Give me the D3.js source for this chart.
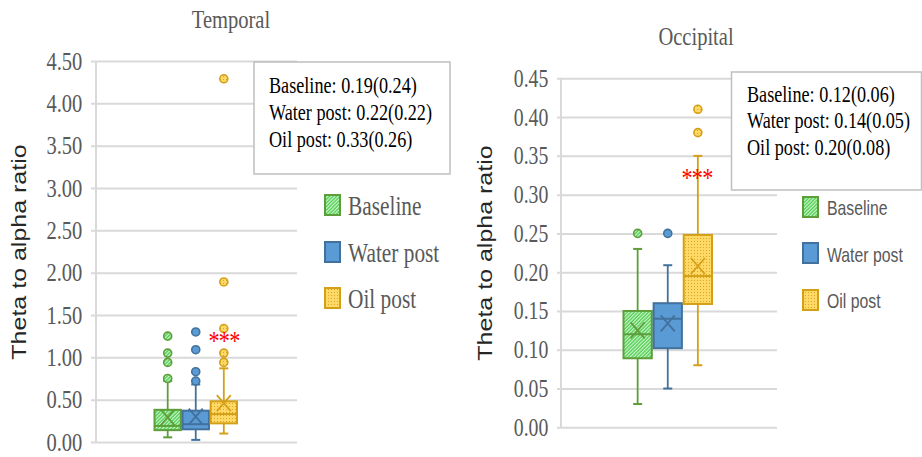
<!DOCTYPE html>
<html>
<head>
<meta charset="utf-8">
<script src="https://cdn.jsdelivr.net/npm/d3@7"></script>
<style>
  body { margin: 0; background: #fff; }
  svg { display: block; }
</style>
</head>
<body>
<div class="svg_container"></div>
<script>
const WIDTH = 922;
const HEIGHT = 457;
const SX = 0.79; // the picture is squeezed sideways, text too

const groups = ["Baseline", "Water post", "Oil post"];

// Temporal
const temporalMin = [0.055, 0.025, 0.10];
const temporalQ1 = [0.14, 0.15, 0.22];
const temporalMedian = [0.19, 0.21, 0.33];
const temporalQ3 = [0.38, 0.37, 0.48];
const temporalMax = [0.72, 0.68, 0.87];
const temporalMean = [0.29, 0.30, 0.46];
const temporalOutliers = [[0.75, 0.94, 1.05, 1.25], [0.72, 0.83, 1.09, 1.30], [0.94, 1.05, 1.34, 1.89, 4.29]];
const temporalTicks = [0, 0.5, 1, 1.5, 2, 2.5, 3, 3.5, 4, 4.5];
const temporalSummary = ["Baseline: 0.19(0.24)", "Water post: 0.22(0.22)", "Oil post: 0.33(0.26)"];

// Occipital
const occipitalMin = [0.03, 0.05, 0.08];
const occipitalQ1 = [0.089, 0.102, 0.159];
const occipitalMedian = [0.12, 0.14, 0.195];
const occipitalQ3 = [0.15, 0.16, 0.248];
const occipitalMax = [0.23, 0.209, 0.35];
const occipitalMean = [0.125, 0.134, 0.208];
const occipitalOutliers = [[0.25], [0.25], [0.38, 0.41]];
const occipitalTicks = [0, 0.05, 0.1, 0.15, 0.2, 0.25, 0.3, 0.35, 0.4, 0.45];
const occipitalSummary = ["Baseline: 0.12(0.06)", "Water post: 0.14(0.05)", "Oil post: 0.20(0.08)"];

const fills = ["url(#pGreen)", "#5b9bd5", "url(#pGold)"];
const strokes = ["#5e9e3a", "#41719c", "#d4a017"];

const SERIF = "'Liberation Serif', 'Times New Roman', serif";
const SANS = "'Liberation Sans', Arial, sans-serif";

var panels = [
  {
    title: "Temporal", titleX: 231, titleY: 28,
    min: temporalMin, q1: temporalQ1, med: temporalMedian, q3: temporalQ3, max: temporalMax,
    mean: temporalMean, out: temporalOutliers, ticks: temporalTicks, summary: temporalSummary,
    yDomain: [0, 4.5], yRange: [442, 61], xRange: [154.5, 237],
    gridLeft: 91, gridRight: 297, axisX: 96, tickSize: 26,
    yTitleX: 26, yTitleY: 252,
    box: [254, 62, 196, 112], sumX: 269, sumY: [93, 120, 147],
    legX: 325, legY: [195, 242, 288], legTextX: 348, legBase: [215, 262, 308], legFont: SERIF, legSize: 27,
    starX: 224, starY: 350
  },
  {
    title: "Occipital", titleX: 696, titleY: 45,
    min: occipitalMin, q1: occipitalQ1, med: occipitalMedian, q3: occipitalQ3, max: occipitalMax,
    mean: occipitalMean, out: occipitalOutliers, ticks: occipitalTicks, summary: occipitalSummary,
    yDomain: [0, 0.45], yRange: [427.3, 78.3], xRange: [623.5, 712],
    gridLeft: 557, gridRight: 777, axisX: 561, tickSize: 25,
    yTitleX: 492, yTitleY: 253,
    box: [731.5, 72, 190, 118], sumX: 747, sumY: [102, 128, 155],
    legX: 803, legY: [197, 243, 290], legTextX: 827, legBase: [215, 262, 308], legFont: SANS, legSize: 20,
    starX: 697, starY: 187
  }
];

var squeezed = function(g, x, y, str) {
  return g.append("text")
    .attr("transform", "translate(" + x + "," + y + ") scale(" + SX + ",1)")
    .text(str);
};

var addPatterns = function(svg) {
  var defs = svg.append("defs");
  var green = defs.append("pattern").attr("id", "pGreen")
    .attr("width", 2.5).attr("height", 2.5)
    .attr("patternUnits", "userSpaceOnUse")
    .attr("patternTransform", "rotate(45)");
  green.append("rect").attr("width", 2.5).attr("height", 2.5).attr("fill", "#52cf52");
  green.append("rect").attr("width", 1.1).attr("height", 2.5).attr("fill", "#d2f6d2");

  var gold = defs.append("pattern").attr("id", "pGold")
    .attr("width", 3).attr("height", 3)
    .attr("patternUnits", "userSpaceOnUse");
  gold.append("rect").attr("width", 3).attr("height", 3).attr("fill", "#ffd966");
  gold.append("rect").attr("x", 1).attr("y", 1).attr("width", 1).attr("height", 1).attr("fill", "#d9a62a");
};

var drawPanel = function(svg, p) {
  var y = d3.scaleLinear().domain(p.yDomain).range(p.yRange);
  var x = d3.scaleBand().domain(groups).range(p.xRange).paddingInner(0.06);
  var bw = x.bandwidth();

  // grid + tick labels
  var axis = d3.axisLeft(y)
    .tickValues(p.ticks)
    .tickFormat(d3.format(".2f"))
    .tickSize(-(p.gridRight - p.gridLeft))
    .tickPadding(11);
  var ag = svg.append("g")
    .attr("transform", "translate(" + p.gridLeft + ",0)")
    .call(axis);
  ag.select(".domain").remove();
  ag.selectAll("line").attr("stroke", "#d9d9d9").attr("stroke-width", 2);
  ag.selectAll("text")
    .attr("transform", "scale(" + SX + ",1)")
    .attr("font-family", SERIF)
    .attr("font-size", p.tickSize)
    .attr("fill", "#595959");

  svg.append("line")
    .attr("x1", p.axisX).attr("x2", p.axisX)
    .attr("y1", p.yRange[1]).attr("y2", p.yRange[0])
    .attr("stroke", "#d9d9d9").attr("stroke-width", 2);

  // title and axis title
  squeezed(svg, p.titleX, p.titleY, p.title)
    .attr("text-anchor", "middle")
    .attr("font-family", SERIF).attr("font-size", 26).attr("fill", "#595959");

  svg.append("text")
    .attr("transform", "translate(" + p.yTitleX + "," + p.yTitleY + ") scale(" + SX + ",1) rotate(-90)")
    .attr("text-anchor", "middle")
    .attr("font-family", SANS).attr("font-size", 25).attr("fill", "#262626")
    .text("Theta to alpha ratio");

  // boxes
  groups.forEach(function(gname, i) {
    var cx = x(gname) + bw / 2;
    var g = svg.append("g");
    var col = strokes[i];

    g.append("line")
      .attr("x1", cx).attr("x2", cx)
      .attr("y1", y(p.min[i])).attr("y2", y(p.max[i]))
      .attr("stroke", col).attr("stroke-width", 1.8);
    [p.min[i], p.max[i]].forEach(function(v) {
      g.append("line")
        .attr("x1", cx - 4.5).attr("x2", cx + 4.5)
        .attr("y1", y(v)).attr("y2", y(v))
        .attr("stroke", col).attr("stroke-width", 2);
    });

    g.append("rect")
      .attr("x", x(gname)).attr("width", bw)
      .attr("y", y(p.q3[i])).attr("height", y(p.q1[i]) - y(p.q3[i]))
      .attr("fill", fills[i]).attr("stroke", col).attr("stroke-width", 2);

    g.append("line")
      .attr("x1", x(gname)).attr("x2", x(gname) + bw)
      .attr("y1", y(p.med[i])).attr("y2", y(p.med[i]))
      .attr("stroke", col).attr("stroke-width", 2);

    var my = y(p.mean[i]);
    g.append("path")
      .attr("d", "M" + (cx - 7) + "," + (my - 8) + "L" + (cx + 7) + "," + (my + 8) +
                 "M" + (cx + 7) + "," + (my - 8) + "L" + (cx - 7) + "," + (my + 8))
      .attr("stroke", col).attr("stroke-width", 1.8).attr("fill", "none");

    g.selectAll("circle.out").data(p.out[i]).enter().append("circle")
      .attr("class", "out")
      .attr("cx", cx).attr("cy", function(d) { return y(d); })
      .attr("r", 4)
      .attr("fill", fills[i]).attr("stroke", col).attr("stroke-width", 1.6);
  });

  // significance stars
  squeezed(svg, p.starX, p.starY, "***")
    .attr("text-anchor", "middle")
    .attr("font-family", SERIF)
    .attr("font-size", 28).attr("letter-spacing", -1).attr("fill", "#ff0000");

  // summary box
  svg.append("rect")
    .attr("x", p.box[0]).attr("y", p.box[1]).attr("width", p.box[2]).attr("height", p.box[3])
    .attr("fill", "#fff").attr("stroke", "#bfbfbf").attr("stroke-width", 1.5);
  p.summary.forEach(function(s, i) {
    squeezed(svg, p.sumX, p.sumY[i], s)
      .attr("font-family", SERIF).attr("font-size", 23).attr("fill", "#000");
  });

  // legend
  groups.forEach(function(gname, i) {
    svg.append("rect")
      .attr("x", p.legX).attr("y", p.legY[i]).attr("width", 15).attr("height", 20)
      .attr("fill", fills[i]).attr("stroke", strokes[i]).attr("stroke-width", 2);
    squeezed(svg, p.legTextX, p.legBase[i], gname)
      .attr("font-family", p.legFont).attr("font-size", p.legSize).attr("fill", "#595959");
  });
};

var loadDefault = function() {
  var svg = d3.select(".svg_container").append("svg")
    .attr("width", WIDTH)
    .attr("height", HEIGHT);
  addPatterns(svg);
  panels.forEach(function(p) { drawPanel(svg, p); });
};

window.onload = loadDefault;
</script>
</body>
</html>
